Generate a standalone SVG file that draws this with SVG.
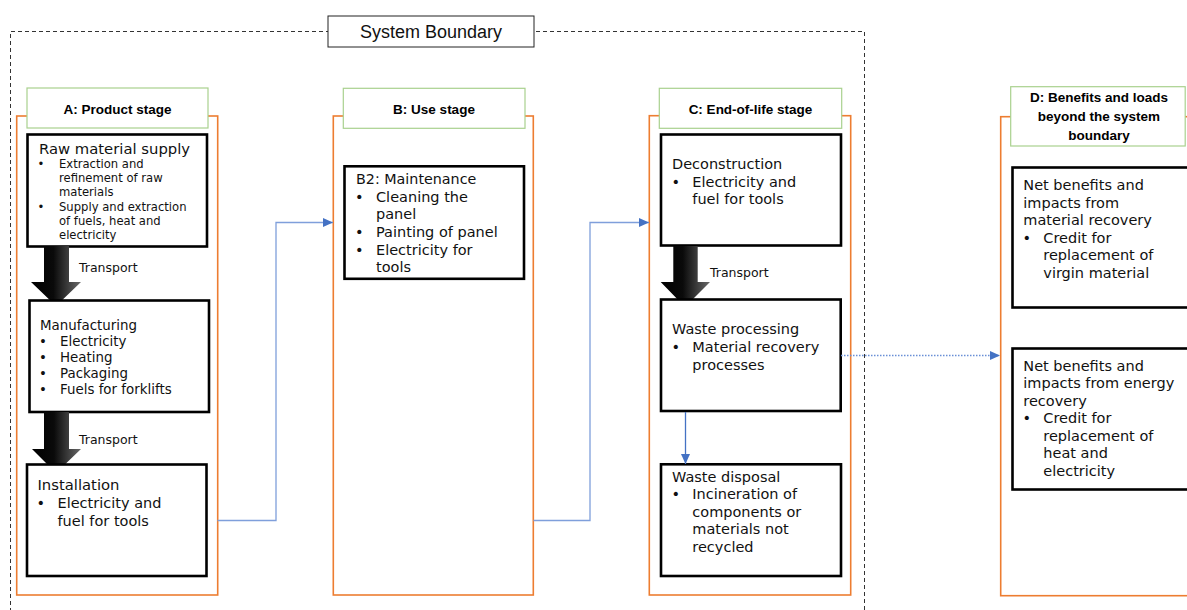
<svg xmlns="http://www.w3.org/2000/svg" width="1187" height="610" viewBox="0 0 1187 610">
<style>
.bg{fill:#fff}
.bound{fill:none;stroke:#333;stroke-width:1;stroke-dasharray:4 3}
.sbox{fill:#fff;stroke:#222;stroke-width:1}
.stage{fill:#fff;stroke:#ED7D31;stroke-width:1.6}
.head{fill:#fff;stroke:#A9D18E;stroke-width:1.2}
.box{fill:#fff;stroke:#000;stroke-width:2.6}
.ht{font-family:"Liberation Sans",Arial,sans-serif;font-weight:bold;font-size:13.5px;fill:#000;text-anchor:middle}
.st{font-family:"Liberation Sans",Arial,sans-serif;font-size:18px;fill:#111;text-anchor:middle}
.t{font-family:"DejaVu Sans",Verdana,sans-serif;font-size:14.5px;fill:#111}
.tm{font-family:"DejaVu Sans",Verdana,sans-serif;font-size:13.4px;fill:#111}
.ts{font-family:"DejaVu Sans",Verdana,sans-serif;font-size:11.6px;fill:#111}
.tr{font-family:"DejaVu Sans",Verdana,sans-serif;font-size:12.5px;fill:#111}
.blk{fill:url(#g)}
.con{fill:none;stroke:#7F9FDB;stroke-width:1.3}
.dot{fill:none;stroke:#6A8FD6;stroke-width:1.3;stroke-dasharray:1.5 1.5}
</style>
<defs>
<linearGradient id="g" x1="0" y1="0" x2="1" y2="0">
<stop offset="0" stop-color="#000"/>
<stop offset="0.45" stop-color="#0a0a0a"/>
<stop offset="1" stop-color="#6a6a6a"/>
</linearGradient>
<marker id="ah" markerUnits="userSpaceOnUse" markerWidth="10" markerHeight="9" refX="10" refY="4.5" orient="auto">
<path d="M0,0 L10,4.5 L0,9 z" fill="#4472C4"/>
</marker>
</defs>
<rect class="bg" x="0" y="0" width="1187" height="610"/>

<g id="system-boundary">
<path class="bound" d="M10.5,612 V31.5 H864.5 V612"/>
<rect class="sbox" x="328" y="16" width="206" height="31"/>
<text class="st" x="431" y="38">System Boundary</text>
</g>

<g id="stage-a">
<rect class="stage" x="16.7" y="116" width="201" height="479"/>
<rect class="head" x="27" y="88" width="181" height="40"/>
<text class="ht" x="117.5" y="113.5">A: Product stage</text>
</g>

<g id="raw-material">
<rect class="box" x="27.5" y="134.5" width="179.5" height="112"/>
<text class="t" x="39" y="153.5" style="font-size:14.8px">Raw material supply</text>
<text class="ts" x="37.5" y="168">•</text>
<text class="ts" x="59" y="168">Extraction and</text>
<text class="ts" x="59" y="182.2">refinement of raw</text>
<text class="ts" x="59" y="196.4">materials</text>
<text class="ts" x="37.5" y="210.6">•</text>
<text class="ts" x="59" y="210.6">Supply and extraction</text>
<text class="ts" x="59" y="224.8">of fuels, heat and</text>
<text class="ts" x="59" y="239">electricity</text>
</g>

<g id="transport-1">
<path class="blk" d="M44,246 H69 V282 H81 L56,306 L31,282 H44 Z"/>
<text class="tr" x="79" y="272">Transport</text>
</g>

<g id="manufacturing">
<rect class="box" x="29.5" y="300.5" width="179.5" height="111.5"/>
<text class="tm" x="40" y="329.5">Manufacturing</text>
<text class="tm" x="39" y="345.5">•</text>
<text class="tm" x="60" y="345.5">Electricity</text>
<text class="tm" x="39" y="361.5">•</text>
<text class="tm" x="60" y="361.5">Heating</text>
<text class="tm" x="39" y="377.5">•</text>
<text class="tm" x="60" y="377.5">Packaging</text>
<text class="tm" x="39" y="393.5">•</text>
<text class="tm" x="60" y="393.5">Fuels for forklifts</text>
</g>

<g id="transport-2">
<path class="blk" d="M44,412 H69 V449 H81 L56,473 L32,449 H44 Z"/>
<text class="tr" x="79" y="444">Transport</text>
</g>

<g id="installation">
<rect class="box" x="27" y="464.5" width="179.5" height="111.5"/>
<text class="t" x="37.5" y="489.5" style="font-size:14.8px">Installation</text>
<text class="t" x="36.5" y="508">•</text>
<text class="t" x="57.5" y="508">Electricity and</text>
<text class="t" x="57.5" y="526">fuel for tools</text>
</g>

<g id="stage-b">
<rect class="stage" x="333.3" y="116" width="200" height="479"/>
<rect class="head" x="343.3" y="88.3" width="181.7" height="40"/>
<text class="ht" x="434" y="113.5">B: Use stage</text>
</g>

<g id="maintenance">
<rect class="box" x="344.5" y="166.3" width="179.5" height="112.5"/>
<text class="t" x="356" y="184" style="font-size:14.3px">B2: Maintenance</text>
<text class="t" x="355" y="201.5">•</text>
<text class="t" x="376" y="201.5">Cleaning the</text>
<text class="t" x="376" y="219">panel</text>
<text class="t" x="355" y="236.5">•</text>
<text class="t" x="376" y="236.5">Painting of panel</text>
<text class="t" x="355" y="254.5">•</text>
<text class="t" x="376" y="254.5">Electricity for</text>
<text class="t" x="376" y="272">tools</text>
</g>

<g id="stage-c">
<rect class="stage" x="649.3" y="115.7" width="201.4" height="479.3"/>
<rect class="head" x="659.3" y="88.3" width="182.4" height="40"/>
<text class="ht" x="750.5" y="113.5">C: End-of-life stage</text>
</g>

<g id="deconstruction">
<rect class="box" x="661" y="134.5" width="180" height="111"/>
<text class="t" x="672" y="169">Deconstruction</text>
<text class="t" x="671.5" y="186.5">•</text>
<text class="t" x="692.3" y="186.5">Electricity and</text>
<text class="t" x="692.3" y="204">fuel for tools</text>
</g>

<g id="transport-3">
<path class="blk" d="M673.3,246 H697.7 V282 H710 L685,307 L660.7,282 H673.3 Z"/>
<text class="tr" x="710" y="277">Transport</text>
</g>

<g id="waste-processing">
<rect class="box" x="661" y="299.5" width="179.7" height="111.5"/>
<text class="t" x="672" y="334">Waste processing</text>
<text class="t" x="671.5" y="352">•</text>
<text class="t" x="692.3" y="352">Material recovery</text>
<text class="t" x="692.3" y="369.5">processes</text>
</g>

<g id="waste-disposal">
<rect class="box" x="661" y="464.3" width="180" height="111.7"/>
<text class="t" x="672" y="481.5">Waste disposal</text>
<text class="t" x="671.5" y="499">•</text>
<text class="t" x="692.3" y="499">Incineration of</text>
<text class="t" x="692.3" y="516.7">components or</text>
<text class="t" x="692.3" y="534.3">materials not</text>
<text class="t" x="692.3" y="552">recycled</text>
</g>

<g id="stage-d">
<rect class="stage" x="1000.7" y="116.7" width="200" height="479"/>
<rect class="head" x="1010.7" y="86.7" width="174.5" height="59.3"/>
<text class="ht" x="1099" y="101.7">D: Benefits and loads</text>
<text class="ht" x="1099" y="120.7">beyond the system</text>
<text class="ht" x="1099" y="139.7">boundary</text>
</g>

<g id="material-recovery">
<rect class="box" x="1012.5" y="167.5" width="190" height="140"/>
<text class="t" x="1023.3" y="190">Net benefits and</text>
<text class="t" x="1023.3" y="207.5">impacts from</text>
<text class="t" x="1023.3" y="225">material recovery</text>
<text class="t" x="1022.5" y="242.5">•</text>
<text class="t" x="1043.3" y="242.5">Credit for</text>
<text class="t" x="1043.3" y="260">replacement of</text>
<text class="t" x="1043.3" y="277.5">virgin material</text>
</g>

<g id="energy-recovery">
<rect class="box" x="1012.5" y="348.5" width="190" height="141"/>
<text class="t" x="1023.3" y="370.5">Net benefits and</text>
<text class="t" x="1023.3" y="388">impacts from energy</text>
<text class="t" x="1023.3" y="405.5">recovery</text>
<text class="t" x="1022.5" y="423">•</text>
<text class="t" x="1043.3" y="423">Credit for</text>
<text class="t" x="1043.3" y="440.5">replacement of</text>
<text class="t" x="1043.3" y="458">heat and</text>
<text class="t" x="1043.3" y="475.5">electricity</text>
</g>

<g id="connectors">
<path class="con" d="M217.5,520.5 H276 V222.5 H333" marker-end="url(#ah)"/>
<path class="con" d="M533.5,520.5 H590 V222.5 H649" marker-end="url(#ah)"/>
<path class="con" d="M685.5,412 V464" marker-end="url(#ah)" style="stroke:#4472C4"/>
<path class="dot" d="M841,355.5 H1000" marker-end="url(#ah)"/>
</g>
</svg>
